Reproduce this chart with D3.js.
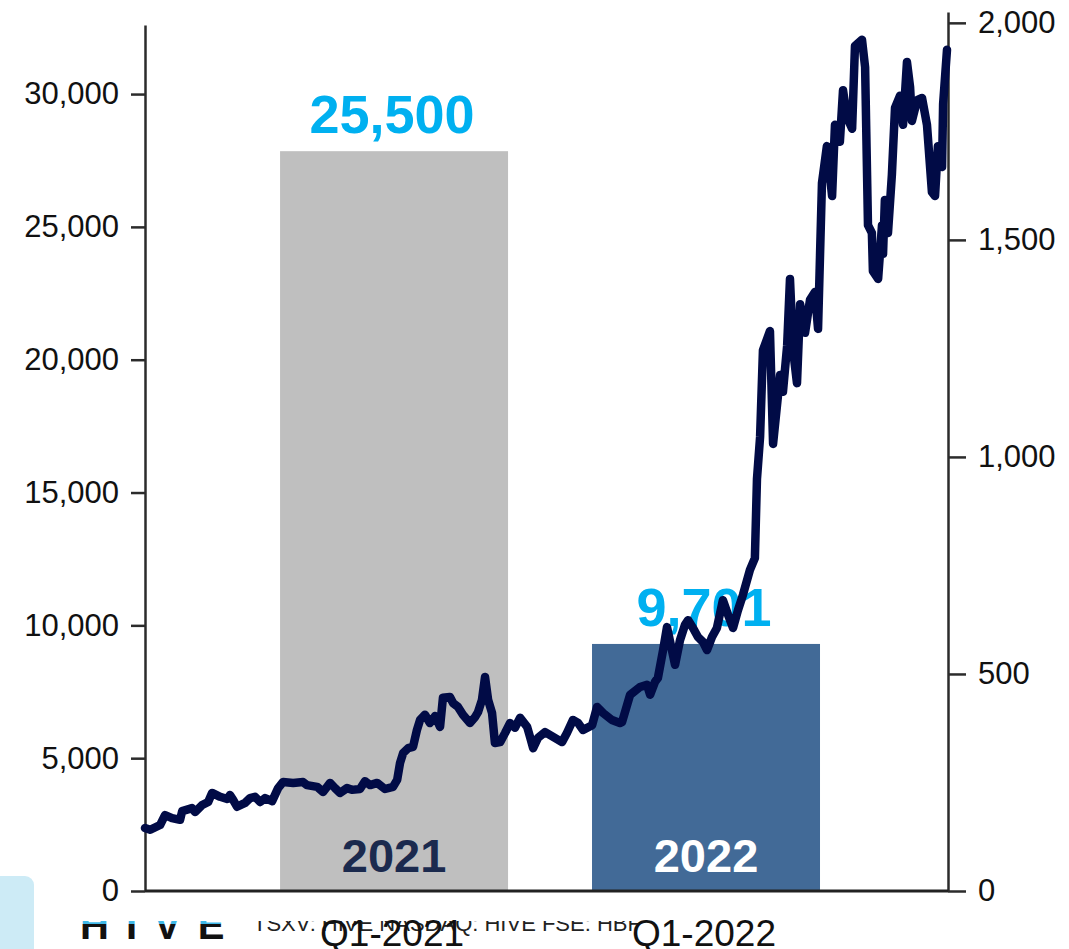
<!DOCTYPE html>
<html lang="en">
<head>
<meta charset="utf-8">
<title>HIVE chart</title>
<script src="https://cdn.jsdelivr.net/npm/d3@7"></script>
<style>
  body { margin: 0; background: #fff; }
  svg { display: block; font-family: "Liberation Sans", Arial, sans-serif; }
</style>
</head>
<body>
<script>

// bars: one per quarter, centre given in months since Jan 2020
var barPeriods = ["Q1-2021", "Q1-2022"];
var barYears = ["2021", "2022"];
var barMonths = [13.5, 25.5];
var barValues = [27850, 9300];
var barLabels = ["25,500", "9,701"];

// line series (right axis), months since Jan 2020
var lineMonths = [3.92, 4.12, 4.50, 4.69, 4.96, 5.27, 5.35, 5.73, 5.85, 6.12,
  6.35, 6.50, 6.81, 7.08, 7.19, 7.31, 7.46, 7.77, 7.96, 8.15,
  8.35, 8.54, 8.81, 9.04, 9.23, 9.62, 10.00, 10.15, 10.54, 10.77,
  11.04, 11.23, 11.42, 11.69, 11.88, 12.19, 12.38, 12.58, 12.85, 13.15,
  13.46, 13.62, 13.73, 13.85, 14.04, 14.23, 14.38, 14.50, 14.69, 14.88,
  15.08, 15.27, 15.38, 15.65, 15.77, 15.96, 16.15, 16.42, 16.62, 16.73,
  16.88, 17.00, 17.12, 17.27, 17.38, 17.58, 17.77, 17.96, 18.15, 18.35,
  18.62, 18.73, 18.85, 19.04, 19.31, 19.62, 19.96, 20.15, 20.38, 20.58,
  20.77, 21.12, 21.31, 21.54, 21.88, 22.19, 22.27, 22.58, 22.96, 23.23,
  23.35, 23.54, 23.65, 23.85, 24.00, 24.31, 24.50, 24.69, 24.81, 25.00,
  25.19, 25.38, 25.54, 25.73, 25.92, 26.15, 26.35, 26.54, 26.73, 26.92,
  27.19, 27.38, 27.46, 27.58, 27.69, 27.96, 28.08, 28.35, 28.46, 28.62,
  28.73, 28.85, 29.00, 29.12, 29.31, 29.50, 29.69, 29.81, 29.96, 30.15,
  30.35, 30.46, 30.65, 30.77, 30.92, 31.12, 31.23, 31.50, 31.62, 31.73,
  31.88, 31.92, 32.12, 32.27, 32.31, 32.38, 32.50, 32.65, 32.77, 32.96,
  33.08, 33.23, 33.35, 33.42, 33.62, 33.81, 34.00, 34.19, 34.31, 34.42,
  34.58, 34.62, 34.77];
var lineValues = [145, 141, 152, 175, 168, 164, 184, 191, 182, 198,
  205, 226, 217, 212, 221, 210, 194, 203, 214, 217,
  205, 214, 207, 237, 251, 249, 251, 244, 240, 228,
  249, 237, 226, 237, 233, 235, 253, 244, 249, 235,
  240, 256, 295, 318, 329, 332, 371, 394, 406, 387,
  403, 378, 445, 447, 433, 424, 406, 387, 401, 412,
  440, 493, 440, 410, 341, 343, 364, 387, 376, 399,
  378, 355, 329, 353, 366, 355, 343, 364, 394, 387,
  371, 382, 424, 410, 394, 387, 389, 452, 470, 475,
  452, 482, 491, 555, 608, 521, 578, 613, 624, 606,
  585, 574, 555, 585, 606, 670, 636, 606, 647, 682,
  740, 767, 949, 1046, 1246, 1290, 1030, 1189, 1150, 1256,
  1410, 1246, 1170, 1352, 1286, 1362, 1380, 1295, 1631, 1716,
  1601, 1765, 1726, 1845, 1783, 1756, 1947, 1961, 1898, 1534,
  1516, 1428, 1410, 1534, 1468, 1592, 1516, 1650, 1804, 1832,
  1765, 1910, 1852, 1774, 1822, 1827, 1765, 1610, 1601, 1716,
  1668, 1813, 1938];

var leftTicks = [0, 5000, 10000, 15000, 20000, 25000, 30000];
var rightTicks = [0, 500, 1000, 1500, 2000];

var w = 1069, h = 949;
var left = 145, right = 948, bottom = 891;
var barWidthMonths = 8.77;

var svg = d3.select("body").append("svg")
    .attr("width", w)
    .attr("height", h);

var x = d3.scaleLinear().domain([3.92, 34.77]).range([left, 947]);
var yL = d3.scaleLinear().domain([0, 32600]).range([bottom, 25]);
var yR = d3.scaleLinear().domain([0, 2025]).range([bottom, 12]);

var bars = barValues.map(function(v, i) {
  return {period: barPeriods[i], year: barYears[i], month: barMonths[i], value: v, label: barLabels[i]};
});
var barFill = ["#bfbfbf", "#426a97"];
var yearFill = ["#1b2a4e", "#ffffff"];

// bars
svg.selectAll("rect.bar")
  .data(bars)
  .enter().append("rect")
    .attr("class", "bar")
    .attr("x", function(d) { return x(d.month - barWidthMonths / 2); })
    .attr("width", function(d) { return x(d.month + barWidthMonths / 2) - x(d.month - barWidthMonths / 2); })
    .attr("y", function(d) { return yL(d.value); })
    .attr("height", function(d) { return bottom - yL(d.value); })
    .style("fill", function(d, i) { return barFill[i]; });

// year inside bar
svg.selectAll("text.year")
  .data(bars)
  .enter().append("text")
    .attr("class", "year")
    .attr("x", function(d) { return x(d.month); })
    .attr("y", 872)
    .attr("text-anchor", "middle")
    .style("font-size", "47px")
    .style("font-weight", "bold")
    .style("fill", function(d, i) { return yearFill[i]; })
    .text(function(d) { return d.year; });

// value label above bar
svg.selectAll("text.val")
  .data(bars)
  .enter().append("text")
    .attr("class", "val")
    .attr("x", function(d) { return x(d.month) - 2; })
    .attr("y", function(d) { return yL(d.value) - 18; })
    .attr("text-anchor", "middle")
    .style("font-size", "54px")
    .style("font-weight", "bold")
    .style("fill", "#00b0f0")
    .text(function(d) { return d.label; });

// axes
var axL = svg.append("g")
    .attr("transform", "translate(" + left + ",0)")
    .call(d3.axisLeft(yL).tickValues(leftTicks).tickSize(14).tickSizeOuter(0).tickPadding(12).tickFormat(d3.format(",")));
var axR = svg.append("g")
    .attr("transform", "translate(" + right + ",0)")
    .call(d3.axisRight(yR).tickValues(rightTicks).tickSize(18).tickSizeOuter(0).tickPadding(12).tickFormat(d3.format(",")));

[axL, axR].forEach(function(a) {
  a.select(".domain").style("stroke", "#2b2b2b").style("stroke-width", 2.5);
  a.selectAll(".tick line").style("stroke", "#2b2b2b").style("stroke-width", 2.5);
  a.selectAll(".tick text")
    .style("font-family", "'Liberation Sans', Arial, sans-serif")
    .style("font-size", "31px")
    .style("fill", "#111");
});

// baseline
svg.append("line")
    .attr("x1", left).attr("x2", right)
    .attr("y1", bottom).attr("y2", bottom)
    .style("stroke", "#222")
    .style("stroke-width", 3);

// price line
var pts = lineMonths.map(function(m, i) { return [m, lineValues[i]]; });
var line = d3.line()
    .x(function(d) { return x(d[0]); })
    .y(function(d) { return yR(d[1]); });

svg.append("path")
    .datum(pts)
    .attr("d", line)
    .style("fill", "none")
    .style("stroke", "#010b46")
    .style("stroke-width", 8.5)
    .style("stroke-linejoin", "round")
    .style("stroke-linecap", "round");

// footer strip, mostly hidden under the chart
var defs = svg.append("defs");
defs.append("clipPath").attr("id", "foot")
  .append("rect").attr("x", 0).attr("y", 921).attr("width", w).attr("height", 40);
var grad = defs.append("linearGradient").attr("id", "logo")
    .attr("gradientUnits", "userSpaceOnUse")
    .attr("x1", 0).attr("x2", 0).attr("y1", 921).attr("y2", 929);
grad.append("stop").attr("offset", "0%").style("stop-color", "#3fb8e8");
grad.append("stop").attr("offset", "35%").style("stop-color", "#3fb8e8");
grad.append("stop").attr("offset", "40%").style("stop-color", "#111");
grad.append("stop").attr("offset", "100%").style("stop-color", "#111");

svg.append("rect")
    .attr("x", -10).attr("y", 876)
    .attr("width", 44).attr("height", 90)
    .attr("rx", 9)
    .style("fill", "#cdebf6");

var foot = svg.append("g").attr("clip-path", "url(#foot)");
foot.append("text")
    .attr("x", 80).attr("y", 939)
    .style("font-size", "40px")
    .style("font-weight", "bold")
    .style("letter-spacing", "17px")
    .style("fill", "url(#logo)")
    .text("HIVE");
foot.append("text")
    .attr("x", 253).attr("y", 931)
    .style("font-size", "22px")
    .style("fill", "#222")
    .text("TSXV: HIVE NASDAQ: HIVE FSE: HBF");

// quarter labels
svg.selectAll("text.period")
  .data(bars)
  .enter().append("text")
    .attr("class", "period")
    .attr("x", function(d) { return x(d.month) - 2; })
    .attr("y", 946)
    .attr("text-anchor", "middle")
    .style("font-size", "37px")
    .style("fill", "#111")
    .text(function(d) { return d.period; });

</script>
</body>
</html>
